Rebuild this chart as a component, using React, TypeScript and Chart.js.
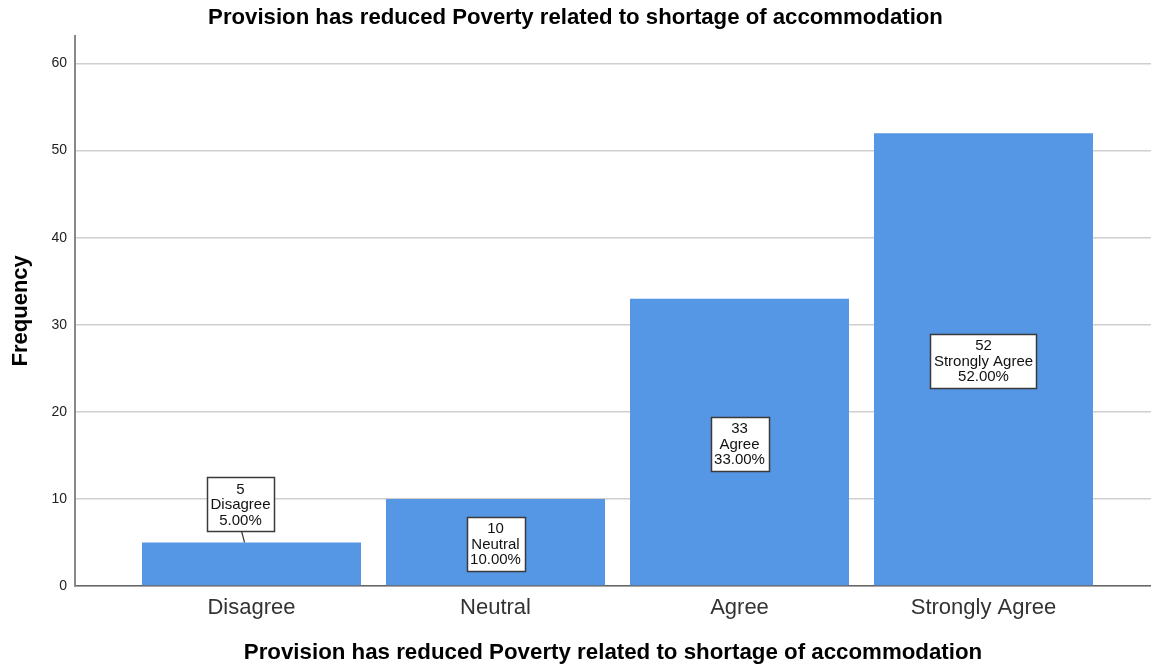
import React, { useEffect, useRef } from "react";
import { Chart, registerables } from "chart.js";
Chart.register(...registerables);

const categories = ["Disagree", "Neutral", "Agree", "Strongly Agree"];
const frequencies = [5, 10, 33, 52];
const percents = [5.0, 10.0, 33.0, 52.0];
const yTickValues = [0, 10, 20, 30, 40, 50, 60];
const titleText = "Provision has reduced Poverty related to shortage of accommodation";
const xAxisTitle = "Provision has reduced Poverty related to shortage of accommodation";
const yAxisTitle = "Frequency";

const FONT = "'Liberation Sans', Arial, Helvetica, sans-serif";

export default function App() {
  const ref = useRef<HTMLCanvasElement>(null);

  useEffect(() => {
    document.body.style.margin = "0";
    const canvas = ref.current;
    if (!canvas) return;

    const labelPlugin = {
      id: "boxLabels",
      afterDatasetsDraw(chart: any) {
        const ctx = chart.ctx;
        const meta = chart.getDatasetMeta(0);
        ctx.save();
        ctx.font = `15px ${FONT}`;
        const lineH = 15.5;
        meta.data.forEach((bar: any, i: number) => {
          const lines = [String(frequencies[i]), categories[i], percents[i].toFixed(2) + "%"];
          const w = Math.max(...lines.map((l) => ctx.measureText(l).width)) + 7;
          const h = lines.length * lineH + 7;
          const barH = bar.base - bar.y;
          let cx = bar.x;
          let cy = (bar.y + bar.base) / 2 + 1.5;
          let leader = false;
          if (barH < h + 4) {
            cx = bar.x - 11;
            cy = bar.y - 11.5 - h / 2;
            leader = true;
          }
          const x0 = Math.round(cx - w / 2) + 0.5;
          const y0 = Math.round(cy - h / 2) + 0.5;
          if (leader) {
            ctx.strokeStyle = "#333";
            ctx.lineWidth = 1.2;
            ctx.beginPath();
            ctx.moveTo(cx + 1, y0 + h);
            ctx.lineTo(cx + 4, bar.y);
            ctx.stroke();
          }
          ctx.fillStyle = "#ffffff";
          ctx.fillRect(x0, y0, Math.round(w), Math.round(h));
          ctx.strokeStyle = "#3a3a3a";
          ctx.lineWidth = 1.5;
          ctx.strokeRect(x0, y0, Math.round(w), Math.round(h));
          ctx.fillStyle = "#111";
          ctx.textAlign = "center";
          ctx.textBaseline = "middle";
          lines.forEach((l, k) => {
            ctx.fillText(l, cx, cy + (k - 1) * lineH + 1);
          });
        });
        ctx.restore();
      },
    };

    const chart = new Chart(canvas, {
      type: "bar",
      data: {
        datasets: [
          {
            data: frequencies.map((v, i) => ({ x: i, y: v })),
            backgroundColor: "#5596e5",
            borderWidth: 0,
            categoryPercentage: 1,
            barPercentage: 0.8975,
          },
        ],
      },
      options: {
        responsive: false,
        animation: false,
        layout: { padding: 0 },
        plugins: {
          legend: { display: false },
          tooltip: { enabled: false },
          title: {
            display: true,
            text: titleText,
            color: "#000",
            font: { family: FONT, size: 22.2, weight: "bold" },
            padding: { top: 5, bottom: 4 },
          },
        },
        scales: {
          x: {
            type: "linear",
            offset: false,
            min: -0.7234,
            max: 3.6865,
            afterBuildTicks: (scale: any) => {
              scale.ticks = categories.map((_, i) => ({ value: i }));
            },
            afterFit: (scale: any) => {
              scale.height = 82;
            },
            ticks: {
              autoSkip: false,
              maxRotation: 0,
              padding: 9,
              color: "#333",
              font: { family: FONT, size: 22 },
              callback: (v: any) => categories[Math.round(Number(v))] ?? "",
            },
            grid: { display: false, drawTicks: false, offset: false },
            border: { display: true, color: "#666", width: 1.5 },
            title: {
              display: true,
              text: xAxisTitle,
              color: "#000",
              font: { family: FONT, size: 22.3, weight: "bold" },
              padding: { top: 0, bottom: 2 },
            },
          },
          y: {
            type: "linear",
            min: 0,
            max: 63.2,
            afterBuildTicks: (scale: any) => {
              scale.ticks = yTickValues.map((v) => ({ value: v }));
            },
            afterFit: (scale: any) => {
              scale.width = 75;
            },
            ticks: {
              includeBounds: false,
              padding: 8,
              color: "#222",
              font: { family: FONT, size: 14 },
            },
            grid: { color: "#cfcfcf", lineWidth: 1.5, drawTicks: false },
            border: { display: true, color: "#888", width: 2 },
            title: {
              display: true,
              text: yAxisTitle,
              color: "#000",
              font: { family: FONT, size: 22, weight: "bold" },
              padding: { top: 8, bottom: 0 },
            },
          },
        },
      },
      plugins: [labelPlugin],
    } as any);

    return () => chart.destroy();
  }, []);

  return (
    <div style={{ position: "absolute", left: 0, top: 0, width: 1151, height: 668, background: "#fff" }}>
      <canvas ref={ref} width={1151} height={668} style={{ display: "block", width: 1151, height: 668 }} />
    </div>
  );
}
